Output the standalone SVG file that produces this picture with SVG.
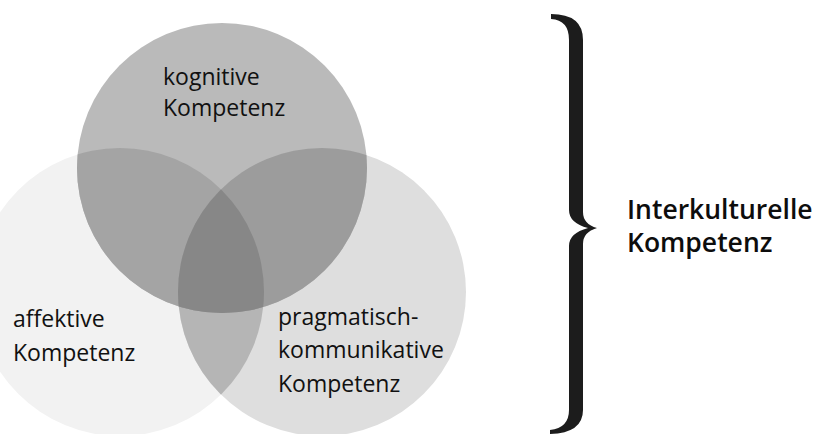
<svg xmlns="http://www.w3.org/2000/svg" width="817" height="434" viewBox="0 0 817 434">
<style>
  .lbl{font-family:"Open Sans","Noto Sans","Liberation Sans",sans-serif;font-size:23px;fill:#111111;}
  .big{font-family:"Open Sans","Noto Sans","Liberation Sans",sans-serif;font-size:26.5px;font-weight:600;fill:#0d0d0d;}
  .brace{fill:#1c1c1c;}
</style>
<defs>
  <clipPath id="cT"><circle cx="222" cy="168" r="145"/></clipPath>
  <clipPath id="cL"><circle cx="120" cy="292" r="144"/></clipPath>
  <clipPath id="cR"><circle cx="322" cy="292" r="144"/></clipPath>
</defs>
<rect width="817" height="434" fill="#ffffff"/>
<g id="affektive">
  <circle cx="120" cy="292" r="144" fill="#f2f2f2"/>
</g>
<g id="pragmatisch">
  <circle cx="322" cy="292" r="144" fill="#dedede"/>
  <circle cx="322" cy="292" r="144" fill="#b5b5b5" clip-path="url(#cL)"/>
</g>
<g id="kognitive">
  <circle cx="222" cy="168" r="145" fill="#bababa"/>
  <circle cx="120" cy="292" r="144" fill="#a4a4a4" clip-path="url(#cT)"/>
  <circle cx="322" cy="292" r="144" fill="#9c9c9c" clip-path="url(#cT)"/>
  <g clip-path="url(#cT)">
    <circle cx="322" cy="292" r="144" fill="#878787" clip-path="url(#cL)"/>
  </g>
</g>
<g id="labels">
  <text class="lbl" x="163" y="85">kognitive</text>
  <text class="lbl" x="163" y="116">Kompetenz</text>
  <text class="lbl" x="13" y="327">affektive</text>
  <text class="lbl" x="13" y="361">Kompetenz</text>
  <text class="lbl" x="278" y="325">pragmatisch-</text>
  <text class="lbl" x="278" y="358">kommunikative</text>
  <text class="lbl" x="278" y="392">Kompetenz</text>
</g>
<g id="connectors">
  <path class="brace" d="M551,14 Q583,14 583,40 L583,212 Q583,224 597,228 Q583,232 583,244 L583,410 Q583,433 550,434 L550,430 Q569,428 569,410 L569,246 Q569,233 588,228 Q569,223 569,210 L569,40 Q569,20 551,19 Z"/>
</g>
<g id="result">
  <text class="big" x="627" y="219">Interkulturelle</text>
  <text class="big" x="627" y="252">Kompetenz</text>
</g>
</svg>
